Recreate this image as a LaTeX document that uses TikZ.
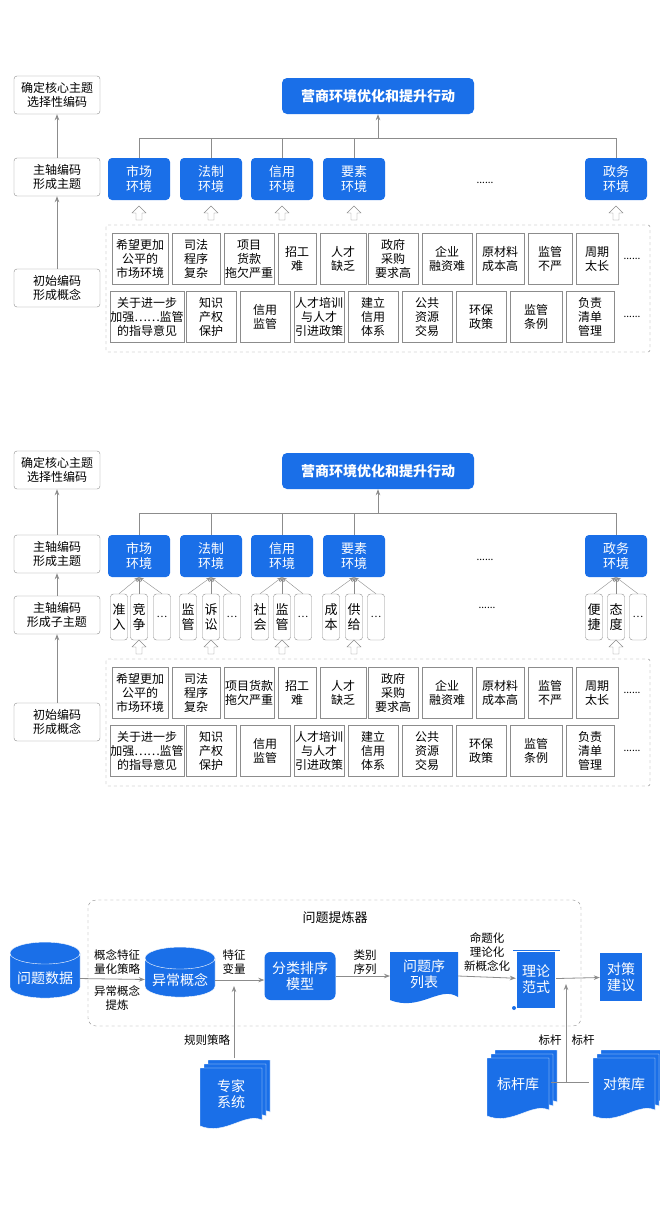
\documentclass[tikz,border=0pt]{standalone}
\usepackage{fontspec}
\setmainfont{Noto Sans CJK SC}
\usetikzlibrary{shapes.geometric,arrows.meta}
\definecolor{bizblue}{HTML}{1A6FE8}
\definecolor{linegray}{HTML}{8C8C8C}
\tikzset{
  leftbox/.style={draw=linegray, rounded corners=3, minimum width=86, minimum height=38, align=center, font=\fontsize{12}{14}\selectfont},
  titlebox/.style={fill=bizblue, rounded corners=5, minimum width=192, minimum height=36, text=white, font=\bfseries\fontsize{14}{16}\selectfont},
  envbox/.style={fill=bizblue, rounded corners=4, minimum width=62, minimum height=42, text=white, align=center, font=\fontsize{13}{15}\selectfont},
  cell/.style={draw=linegray, minimum height=51, inner sep=0.5, align=center, font=\fontsize{12}{14}\selectfont},
  subbox/.style={draw=linegray, rounded corners=3, minimum width=17, minimum height=46, inner sep=0, align=center, font=\fontsize{13}{15}\selectfont},
  gline/.style={draw=linegray, thick},
  garrow/.style={draw=linegray, thick, -{Stealth[length=6pt]}},
  flowlabel/.style={align=center, font=\fontsize{11.5}{14}\selectfont},
}
% hollow up arrow centred at #1,#2
\newcommand\hollowup[2]{%
  \draw [linegray, fill=white] (#1-3,#2+7) -- (#1+3,#2+7) -- (#1+3,#2) -- (#1+7,#2) -- (#1,#2-7) -- (#1-7,#2) -- (#1-3,#2) -- cycle;%
}
% rows of concept cells, #1 = vertical offset
\newcommand\cellrows[1]{
\begin{scope}[shift={(0,#1)}]
\draw [linegray, dashed, rounded corners=2] (106,225) rectangle (650,352);
\foreach \a/\b/\t [count=\i, evaluate=\a as \c using (\a+\b)/2, evaluate=\a as \w using \b-\a] in
  {112/168/{希望更加\\公平的\\市场环境}, 172/220/{司法\\程序\\复杂}, 224/274/{\rowthree}, 278/316/{招工\\难},
   320/366/{人才\\缺乏}, 368/418/{政府\\采购\\要求高}, 422/472/{企业\\融资难}, 476/524/{原材料\\成本高},
   528/572/{监管\\不严}, 576/618/{周期\\太长}}
  \node [cell, minimum width=\w] (ra\i) at (\c,259) {\t};
\foreach \a/\b/\t [count=\i, evaluate=\a as \c using (\a+\b)/2, evaluate=\a as \w using \b-\a] in
  {112/182/{关于进一步\\加强……监管\\的指导意见}, 186/236/{知识\\产权\\保护}, 240/290/{信用\\监管}, 294/344/{人才培训\\与人才\\引进政策},
   348/398/{建立\\信用\\体系}, 402/452/{公共\\资源\\交易}, 456/506/{环保\\政策}, 510/562/{监管\\条例}, 566/614/{负责\\清单\\管理}}
  \node [cell, minimum width=\w] (rb\i) at (\c,317) {\t};
\node (dotsa) at (632,259) {......};
\node (dotsb) at (632,317) {......};
\foreach \x in {139,211,282,354,616} {\hollowup{\x}{213}}
\end{scope}
}
\begin{document}
\begin{tikzpicture}[x=1pt, y=-1pt]
\useasboundingbox [fill=white] (0,0) rectangle (660,1226);

% ---- coding stages, first version
\node [leftbox] (core1) at (57,95) {确定核心主题\\选择性编码};
\node [leftbox] (axis1) at (57,177) {主轴编码\\形成主题};
\node [leftbox] (init1) at (57,288) {初始编码\\形成概念};
\draw [garrow] (axis1) -- (core1);
\draw [garrow] (init1) -- (axis1);

\node [titlebox] (top1) at (378,96) {营商环境优化和提升行动};
\coordinate (j1) at (378,138);
\draw [garrow] (j1) -- (top1);
\foreach \x/\t [count=\i] in {139/市场, 211/法制, 282/信用, 354/要素, 616/政务} {
  \node [envbox] (envA\i) at (\x,179) {\t\\环境};
  \draw [gline] (envA\i.north) |- (j1);
}
\node at (485,183) {......};
\def\rowthree{项目\\货款\\拖欠严重}
\cellrows{0}

% ---- coding stages, second version
\node [leftbox] (core2) at (57,470) {确定核心主题\\选择性编码};
\node [leftbox] (axis2) at (57,554) {主轴编码\\形成主题};
\node [leftbox] (sub2) at (57,615) {主轴编码\\形成子主题};
\node [leftbox] (init2) at (57,722) {初始编码\\形成概念};
\draw [garrow] (axis2) -- (core2);
\draw [garrow] (sub2) -- (axis2);
\draw [garrow] (init2) -- (sub2);

\node [titlebox] (top2) at (378,471) {营商环境优化和提升行动};
\coordinate (j2) at (378,513);
\draw [garrow] (j2) -- (top2);
\foreach \x/\t/\sa/\sb/\xa/\xb/\xc [count=\i] in
  {139/市场/准\\入/竞\\争/119/139/162, 211/法制/监\\管/诉\\讼/188/211/232, 282/信用/社\\会/监\\管/260/282/303,
   354/要素/成\\本/供\\给/331/354/376, 616/政务/便\\捷/态\\度/594/616/638} {
  \node [envbox] (envB\i) at (\x,556) {\t\\环境};
  \draw [gline] (envB\i.north) |- (j2);
  \node [subbox] (sa\i) at (\xa,617) {\sa};
  \node [subbox] (sb\i) at (\xb,617) {\sb};
  \node [subbox, font=\fontsize{10}{12}\selectfont] (sc\i) at (\xc,617) {…};
  \foreach \s in {sa,sb,sc}
    \draw [draw=linegray, -{Stealth[length=5pt]}] (\s\i.north) -- (envB\i.south);
}
\node at (487,608) {......};
\node at (485,560) {......};
\def\rowthree{项目货款\\拖欠严重}
\cellrows{434}

% ---- problem refiner
\draw [linegray, dashed, rounded corners=8] (88,900) rectangle (581,1026);
\node [font=\fontsize{13}{15}\selectfont] (refiner) at (335,918) {问题提炼器};

\node [cylinder, shape border rotate=90, aspect=0.35, fill=bizblue, draw=white, minimum width=70, minimum height=56, text=white, font=\fontsize{14}{16}\selectfont] (data) at (45,978) {问题数据};
\node [cylinder, shape border rotate=90, aspect=0.35, fill=bizblue, draw=white, minimum width=70, minimum height=50, text=white, font=\fontsize{14}{16}\selectfont] (anomaly) at (180,980) {异常概念};
\node [fill=bizblue, rounded corners=6, minimum width=71, minimum height=48, text=white, align=center, font=\fontsize{14}{16}\selectfont] (model) at (300,976) {分类排序\\模型};
\fill [bizblue] (390,952) -- (458,952) -- (458,997) .. controls (440,985) and (420,1012) .. (390,1000) -- cycle;
\node [text=white, align=center, font=\fontsize{14}{16}\selectfont] (list) at (424,974) {问题序\\列表};
\fill [bizblue] (517,952) rectangle (555,1008);
\draw [bizblue, thick] (513,950) -- (560,950);
\fill [bizblue] (514,1008) circle (2);
\node [text=white, align=center, font=\fontsize{14}{16}\selectfont, minimum width=40, minimum height=58] (paradigm) at (536,979) {理论\\范式};
\node [fill=bizblue, minimum width=42, minimum height=48, text=white, align=center, font=\fontsize{14}{16}\selectfont] (advice) at (621,977) {对策\\建议};

\draw [garrow] (data) -- (anomaly);
\draw [garrow] (anomaly.east) -- (model.west |- anomaly.east);
\draw [garrow] (model) -- (390,976);
\draw [garrow] (458,976) -- (paradigm);
\draw [garrow] (paradigm) -- (advice);
\node [flowlabel] (lab1) at (117,962) {概念特征\\量化策略};
\node [flowlabel] (lab2) at (117,998) {异常概念\\提炼};
\node [flowlabel] (lab3) at (234,962) {特征\\变量};
\node [flowlabel] (lab4) at (365,962) {类别\\序列};
\node [flowlabel] (lab5) at (487,952) {命题化\\理论化\\新概念化};

% stacked documents
\foreach \name/\x/\y/\t in {expert/200/1068/专家\\系统, bench/487/1058/标杆库, plan/593/1058/对策库} {
  \foreach \d in {8,4,0}
    \fill [bizblue, draw=white] (\x+\d,\y-\d) -- (\x+\d+62,\y-\d) -- (\x+\d+62,\y-\d+52) .. controls (\x+\d+45,\y-\d+44) and (\x+\d+25,\y-\d+68) .. (\x+\d,\y-\d+58) -- cycle;
  \node [text=white, align=center, font=\fontsize{14}{16}\selectfont] (\name) at (\x+31,\y+26) {\t};
}
\coordinate (rule) at (234,1058);
\draw [garrow] (rule) -- (234,986);
\node [flowlabel] (lab6) at (207,1040) {规则策略};
\coordinate (mid) at (566,1082);
\draw [gline] (551,1082) -- (mid) -- (589,1082);
\draw [garrow] (mid) -- (566,984);
\node [flowlabel] (lab7) at (550,1040) {标杆};
\node [flowlabel] (lab8) at (583,1040) {标杆};
\end{tikzpicture}
\end{document}
